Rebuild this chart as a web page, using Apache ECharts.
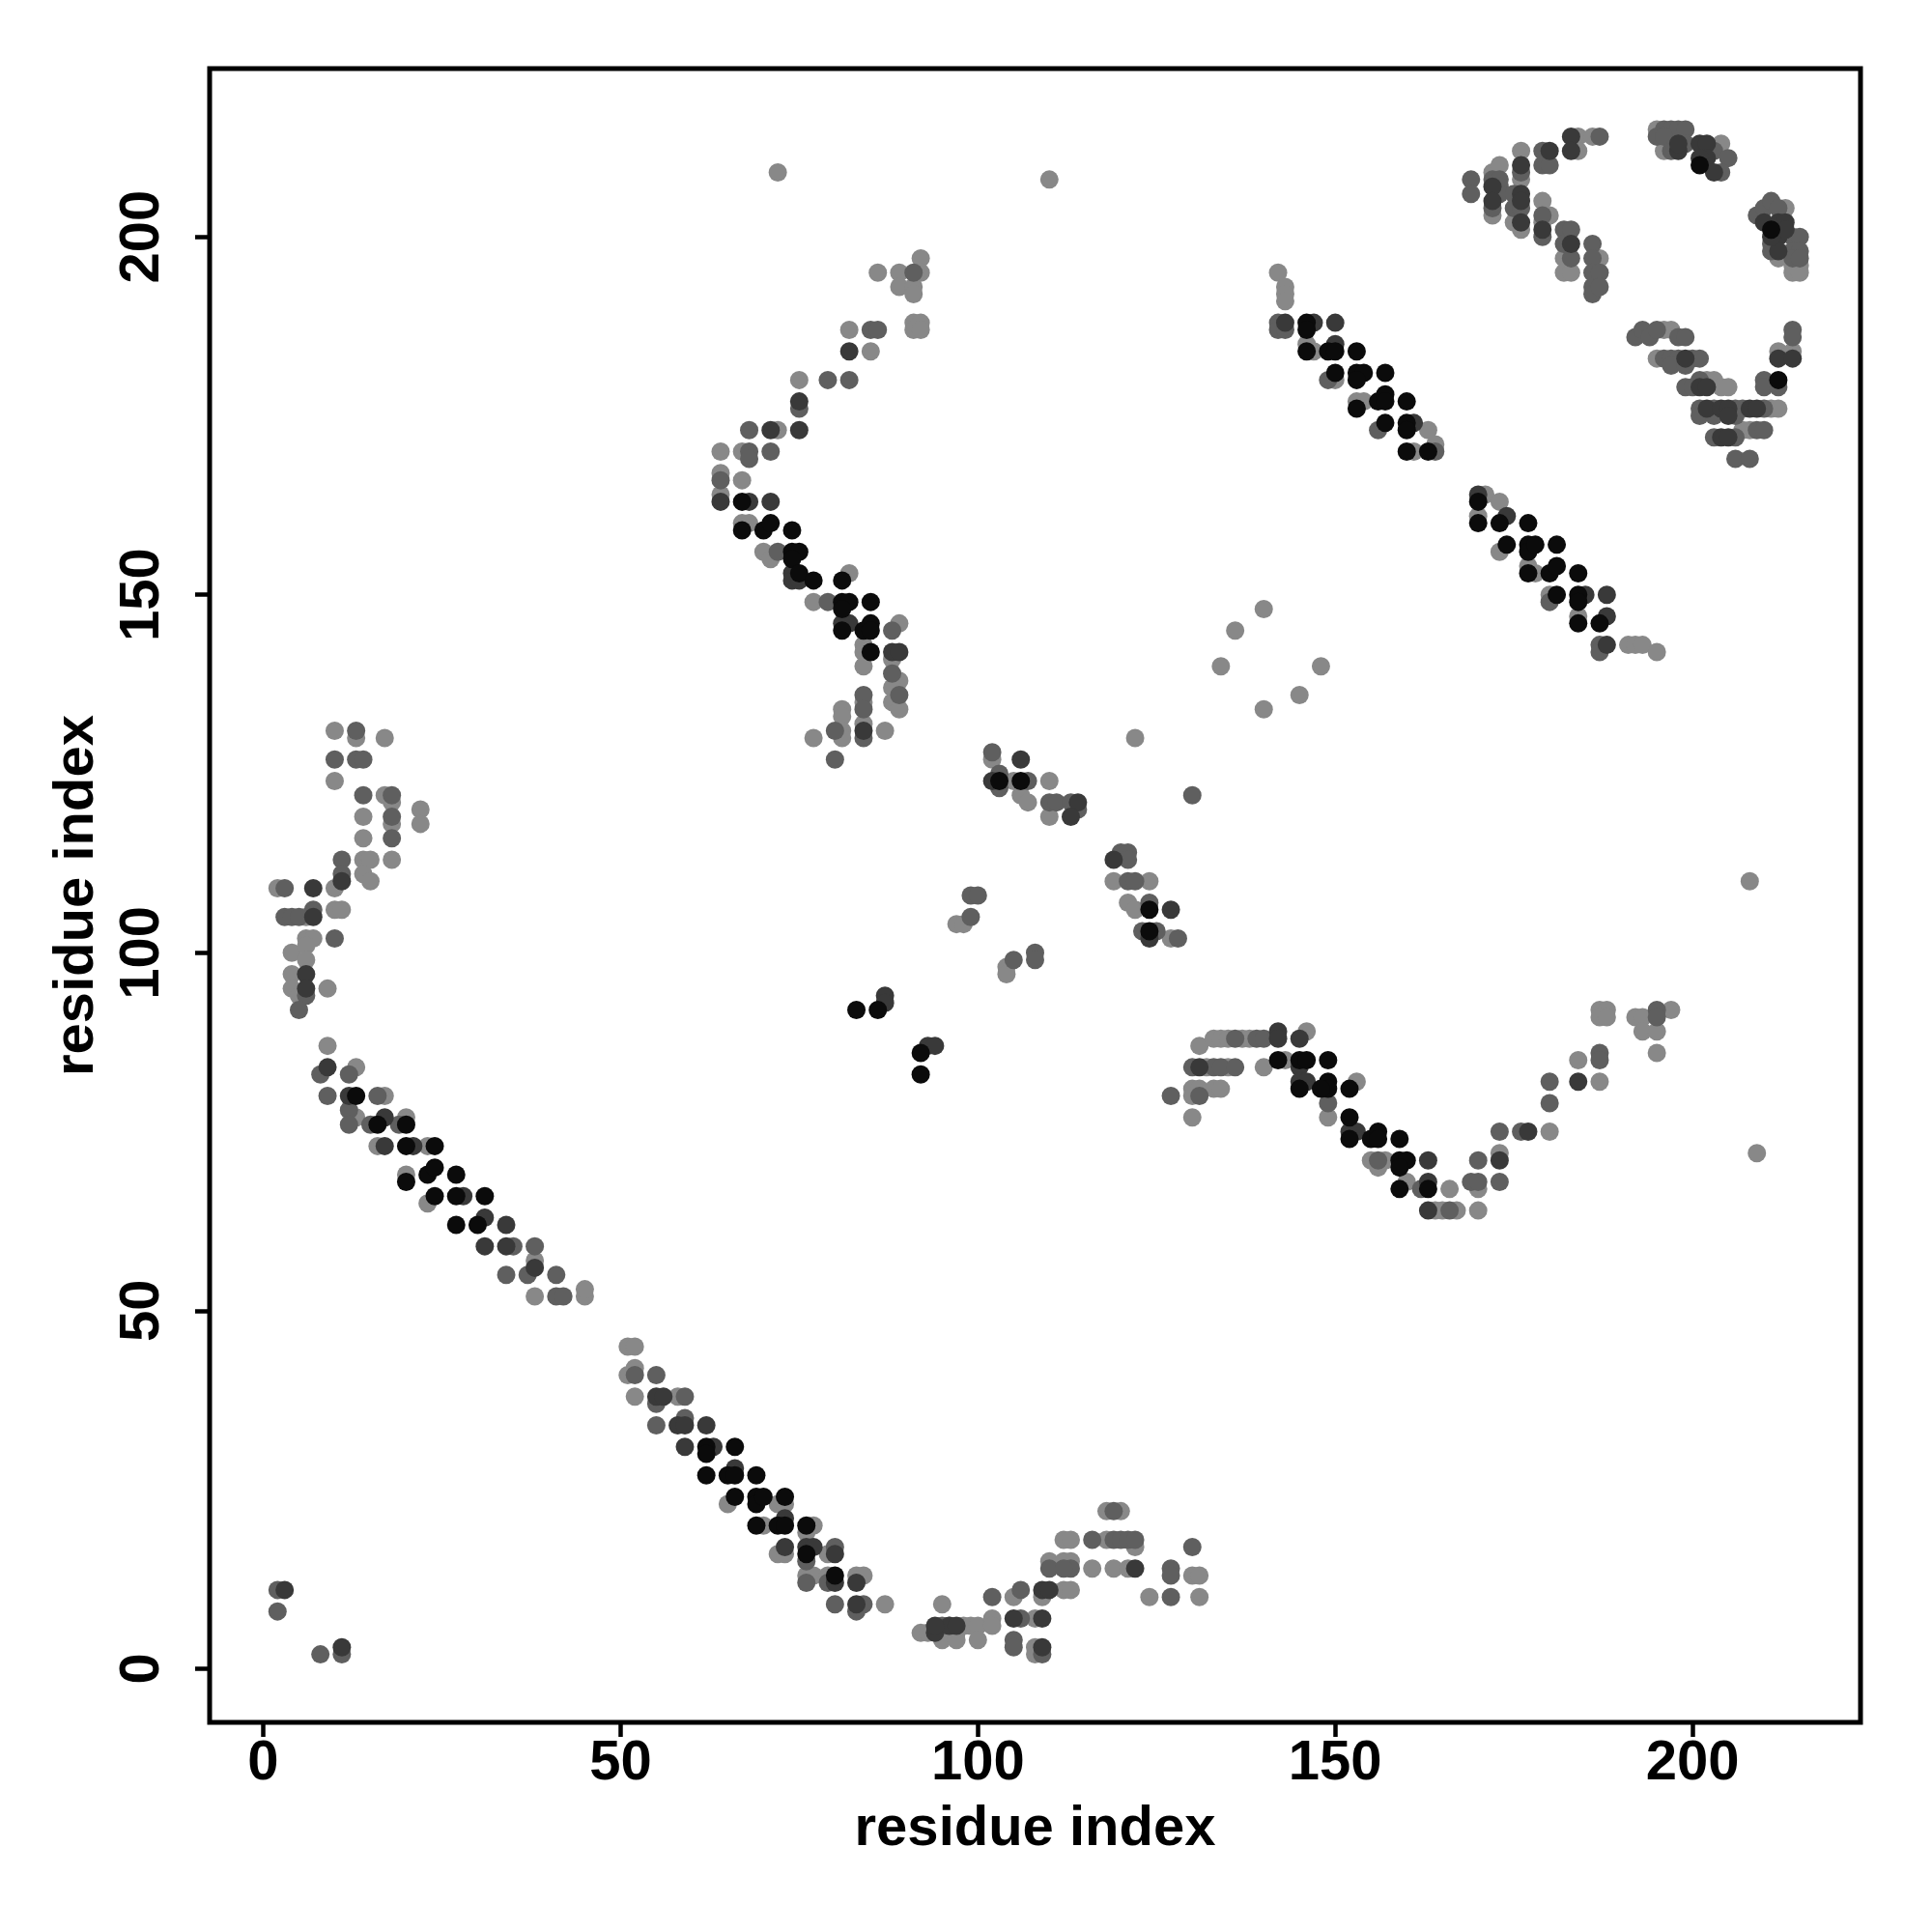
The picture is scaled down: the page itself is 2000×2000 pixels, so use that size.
<!DOCTYPE html>
<html>
<head>
<meta charset="utf-8">
<script src="https://cdn.jsdelivr.net/npm/echarts@6/dist/echarts.min.js"></script>
<style>html,body{margin:0;padding:0;background:#fff}#c{width:2000px;height:2000px}</style>
</head>
<body>
<div id="c"></div>
<script>
// tick labels
const xTicks = [0, 50, 100, 150, 200];
const yTicks = [0, 50, 100, 150, 200];
const axisTitle = 'residue index';
// contact points: [residue i, residue j, shade level 1=black .. 4=light grey]
const leftBand = [[10,131,4],[13,131,3],[13,130,4],[17,130,4],[10,127,3],[13,127,3],[14,127,3],[10,124,4],[14,122,3],[17,122,4],[18,122,3],[18,121,4],[18,119,3],[18,118,4],[14,119,4],[22,120,4],[22,118,4],[14,116,4],[18,116,3],[11,113,3],[14,113,4],[15,113,4],[18,113,4],[11,111,3],[11,110,2],[14,111,4],[15,110,4],[10,109,4],[2,109,4],[3,109,3],[7,109,2],[10,106,4],[11,106,4],[3,105,3],[4,105,3],[5,105,3],[7,106,3],[7,105,2],[6,105,4],[6,102,4],[7,102,4],[10,102,3],[4,100,4],[6,101,4],[6,99,4],[6,97,2],[6,95,2],[6,94,3],[4,97,4],[4,95,4],[9,95,4],[5,94,4],[5,92,3]];
const leftDiag = [[9,87,4],[9,84,2],[8,83,3],[13,84,4],[12,83,3],[9,80,3],[12,80,2],[13,80,1],[16,80,3],[17,80,4],[12,78,3],[13,77,4],[12,76,3],[17,77,2],[16,76,1],[20,77,4],[20,76,1],[15,76,3],[19,76,3],[16,73,4],[17,73,2],[20,73,1],[21,73,2],[23,73,4],[24,73,1],[20,69,4],[20,68,1],[23,69,1],[24,70,1],[27,69,1],[23,65,4],[24,66,1],[27,66,1],[28,66,2],[31,66,1],[27,62,1],[30,62,1],[31,63,2],[34,62,2],[31,59,2],[34,59,2],[35,59,3],[38,59,3],[38,56,2],[38,57,4],[34,55,3],[37,55,3],[41,55,3],[38,52,4],[41,52,3],[42,52,3],[45,52,4],[45,53,4]];
const lowerDiag = [[51,45,4],[52,45,4],[51,41,4],[52,42,4],[52,41,3],[55,41,3],[52,38,4],[55,38,2],[56,38,2],[55,37,3],[58,38,4],[59,38,3],[55,34,3],[58,34,2],[59,35,3],[59,34,2],[62,34,2],[59,31,2],[62,31,1],[62,30,1],[63,31,2],[66,31,1],[62,27,1],[65,27,1],[66,27,1],[66,28,2],[69,27,1],[65,23,4],[66,24,1],[69,24,1],[69,23,1],[70,24,1],[72,23,4],[73,24,1],[73,23,4],[69,20,1],[70,20,4],[72,20,1],[73,20,1],[73,21,2],[76,20,1],[77,20,4],[72,16,4],[73,17,2],[73,16,4],[76,19,4],[76,17,2],[76,16,1],[77,17,2],[76,15,3],[79,16,4],[80,17,3],[80,16,2],[76,13,4],[77,13,4],[76,12,3],[79,13,4],[79,12,3],[80,13,1],[80,12,2],[83,13,4],[84,13,4],[83,12,2],[80,9,3],[83,9,2],[84,9,3],[83,8,3],[87,9,4],[95,9,4],[92,5,4],[93,5,4],[94,5,2],[95,6,3],[96,6,2],[97,5,4],[95,4,4],[97,4,4]];
const originPts = [[2,11,3],[3,11,2],[2,8,3],[8,2,3],[11,3,2],[11,2,3]];
const bottomMid = [[118,22,4],[119,22,3],[120,22,4],[112,18,4],[113,18,4],[116,18,3],[118,18,4],[119,18,3],[120,18,3],[121,18,3],[122,18,3],[122,17,4],[130,17,3],[110,15,4],[110,14,3],[112,15,4],[113,15,4],[113,14,3],[112,14,3],[116,14,4],[119,14,4],[121,14,4],[122,14,2],[127,14,3],[127,13,3],[130,13,4],[131,13,4],[124,10,4],[127,10,3],[131,10,4],[102,10,3],[105,10,4],[106,11,3],[109,11,2],[110,11,2],[112,11,4],[113,11,4],[109,10,4],[94,6,2],[96,6,4],[97,6,2],[98,6,4],[99,6,4],[100,6,4],[100,4,4],[102,7,4],[102,6,4],[105,7,2],[106,7,3],[108,7,4],[109,7,2],[105,4,3],[105,3,3],[108,3,4],[109,3,2],[108,2,4],[109,2,3]];
const arcTop = [[92,197,4],[86,195,4],[89,195,4],[91,195,3],[92,195,4],[89,193,4],[91,193,4],[91,192,4],[91,188,4],[92,188,4],[91,187,4],[92,187,4],[82,187,4],[85,187,3],[86,187,3],[82,184,2],[85,184,4],[75,180,4],[79,180,3],[82,180,3],[75,177,2],[75,176,3],[68,173,3],[71,173,2],[72,173,4],[75,173,2],[64,170,4],[67,170,4],[68,170,3],[68,169,3],[71,170,3],[64,167,4],[64,166,3],[64,164,4],[64,163,2],[67,166,4],[67,163,1],[68,163,2],[71,163,2],[67,160,4],[68,160,4],[67,159,1],[70,159,1],[71,160,1],[74,159,1]];
const arcLow = [[70,156,4],[71,155,4],[72,156,3],[74,156,1],[75,156,1],[74,155,1],[74,153,2],[75,153,1],[74,152,2],[75,152,2],[77,152,1],[81,152,1],[82,153,4],[77,149,4],[79,149,3],[81,149,1],[82,149,1],[85,149,1],[81,148,1],[81,146,2],[82,146,2],[81,145,1],[84,145,1],[85,146,1],[85,145,1],[88,145,3],[89,146,4],[84,143,4],[84,142,4],[85,142,1],[88,142,2],[89,142,2],[84,140,4],[88,141,4],[88,139,3],[89,138,4],[88,137,4],[89,136,3],[88,135,4],[89,134,4],[84,136,3],[84,135,4],[84,134,3],[84,132,4],[84,131,2],[84,130,3],[81,134,4],[81,133,4],[80,131,3],[81,131,4],[81,130,4],[77,130,4],[87,131,4],[80,127,3]];
const middlePts = [[102,128,3],[102,127,4],[106,127,2],[102,124,2],[103,124,1],[103,125,3],[103,123,3],[105,124,4],[106,124,1],[107,124,3],[106,122,4],[107,121,4],[110,124,4],[110,121,3],[111,121,3],[110,119,4],[113,121,3],[114,121,2],[113,119,2],[114,120,3],[122,130,4],[130,122,3],[119,113,2],[120,114,3],[121,114,3],[121,113,3],[119,110,4],[121,110,3],[122,110,3],[124,110,4],[121,107,4],[122,106,4],[124,107,3],[124,106,1],[127,106,2],[123,103,3],[124,103,1],[124,102,2],[125,103,3],[127,102,4],[128,102,3],[99,108,3],[100,108,3],[97,104,4],[98,104,4],[99,105,3],[104,98,4],[104,97,4],[105,99,3],[108,100,3],[108,99,3],[83,92,1],[86,92,1],[87,94,2],[87,93,2],[92,86,1],[93,87,2],[94,87,2],[92,83,1]];
const rightWave = [[127,80,3],[130,77,4],[130,81,4],[131,81,4],[130,80,4],[131,80,3],[133,81,4],[134,81,4],[131,87,4],[133,88,4],[134,88,4],[135,88,4],[136,88,3],[137,88,4],[138,88,4],[139,88,3],[140,88,3],[142,89,2],[142,88,2],[145,88,2],[146,89,4],[130,84,3],[131,84,2],[132,84,4],[133,84,3],[134,84,3],[135,84,4],[136,84,3],[140,84,4],[142,85,1],[143,85,4],[145,85,1],[146,85,1],[145,84,2],[149,85,1],[145,82,2],[146,82,2],[145,81,1],[149,82,1],[149,81,1],[148,81,1],[153,82,4],[152,81,1],[149,79,3],[149,77,4],[152,77,1],[152,75,2],[153,75,2],[152,74,1],[155,74,1],[156,75,1],[156,74,1],[159,74,1],[155,71,4],[156,71,3],[156,70,4],[157,71,4],[159,71,1],[160,71,1],[159,70,1],[163,71,2],[159,67,1],[160,68,4],[162,67,3],[163,68,2],[163,67,1],[166,67,4],[163,64,2],[164,64,4],[165,64,4]];
const rightRise = [[166,64,3],[167,64,4],[170,64,4],[169,68,3],[170,68,3],[170,67,4],[170,71,3],[173,72,4],[173,71,2],[173,68,3],[173,75,3],[176,75,3],[177,75,2],[180,75,4],[180,79,3],[180,82,3],[184,82,2],[187,82,4],[184,85,4],[187,86,3],[187,85,3],[187,92,4],[188,92,4],[187,91,4],[188,91,4],[192,91,4],[193,91,4],[193,89,4],[195,92,3],[195,91,3],[197,92,4],[195,89,4],[195,86,4],[209,72,4]];
const upperDiag = [[142,195,4],[143,193,4],[143,192,4],[143,191,4],[142,188,3],[143,188,2],[142,187,3],[143,187,3],[146,188,1],[147,188,2],[150,188,2],[146,187,1],[146,185,4],[147,184,4],[146,184,1],[149,184,1],[150,185,2],[150,184,1],[153,184,1],[149,180,3],[150,180,4],[150,181,1],[153,181,1],[154,181,1],[153,180,1],[157,181,1],[153,177,4],[154,177,4],[153,176,1],[156,177,1],[157,178,1],[157,177,1],[160,177,1],[156,173,3],[157,174,1],[160,174,1],[160,173,1],[161,174,2],[163,173,4],[160,170,1],[161,170,4],[163,170,1],[164,171,4],[164,170,3]];
const secondDiag = [[170,164,2],[171,164,4],[173,163,4],[170,163,1],[170,161,4],[170,160,1],[173,160,1],[174,161,2],[177,160,1],[173,156,4],[174,157,1],[177,157,1],[177,156,1],[178,157,1],[181,157,1],[177,154,4],[178,153,4],[177,153,1],[180,153,1],[181,154,1],[184,153,1],[180,150,4],[180,149,3],[181,150,1],[184,150,1],[185,150,2],[184,149,1],[188,150,2],[184,147,4],[184,146,1],[187,146,1],[188,147,2],[187,143,3],[188,143,2],[187,142,3],[191,143,4],[192,143,4],[193,143,4],[195,142,4]];
const scatterPts = [[140,148,4],[136,145,4],[134,140,4],[148,140,4],[145,136,4],[140,134,4],[72,209,4],[110,208,4],[208,110,4]];
const cornerLeft = [[169,208,3],[169,206,3],[172,209,4],[172,208,3],[172,207,2],[172,205,2],[172,204,3],[172,203,4],[173,210,4],[173,208,3],[173,207,3],[173,206,3],[175,206,3],[175,204,3],[175,202,4],[176,212,4],[176,210,2],[176,209,3],[176,208,4],[176,206,2],[176,205,2],[176,204,3],[176,202,2],[176,201,4],[179,212,3],[180,212,2],[179,210,3],[180,210,3],[183,214,2],[184,214,4],[186,214,4],[187,214,3],[183,212,2],[184,212,4],[179,205,4],[179,203,3],[179,202,4],[179,201,2],[179,200,3],[180,203,4],[182,201,3],[182,199,3],[182,197,4],[182,195,4],[183,201,3],[183,199,2],[183,197,3],[183,195,4],[186,199,3],[186,197,3],[186,195,3],[186,193,3],[186,192,3],[187,197,4],[187,195,3],[187,193,3]];
const cornerTop = [[195,215,4],[196,215,3],[197,215,3],[198,215,3],[199,215,3],[195,214,3],[196,214,3],[196,212,4],[197,212,3],[198,212,2],[198,213,2],[199,213,3],[201,213,2],[202,213,2],[203,212,3],[201,210,1],[202,211,2],[204,213,4],[205,211,3],[203,209,2],[204,209,3],[201,211,2]];
const cornerRight = [[209,203,3],[210,204,3],[211,205,3],[212,204,3],[210,202,2],[211,201,1],[212,202,2],[213,204,4],[212,200,2],[213,202,2],[213,201,2],[211,199,3],[212,198,2],[214,200,3],[215,200,3],[212,197,4],[214,198,3],[215,198,3],[214,197,3],[215,197,3],[214,196,4],[215,196,4],[214,195,4],[215,195,4],[211,200,2],[211,198,3]];
const cornerLow = [[214,187,3],[214,186,3],[212,184,4],[214,184,4],[212,183,2],[214,183,2],[210,180,3],[212,180,1],[210,179,3],[212,179,3],[192,186,3],[193,187,3],[194,186,3],[195,187,3],[196,187,4],[197,187,4],[198,186,3],[199,186,3],[195,183,4],[196,183,3],[197,183,3],[198,183,3],[199,183,2],[200,183,3],[201,183,3],[197,182,3],[199,182,3],[199,179,3],[200,179,3],[201,180,3],[202,180,4],[203,180,4],[204,179,4],[205,179,4],[201,179,2],[202,179,2],[201,176,3],[202,176,2],[203,176,3],[204,176,2],[205,176,2],[206,176,3],[207,176,3],[208,176,2],[209,176,2],[210,176,3],[211,176,4],[212,176,4],[201,175,3],[203,175,3],[205,175,2],[206,175,3],[203,172,3],[204,172,2],[205,172,2],[206,172,3],[207,173,4],[208,173,4],[209,173,3],[210,173,3],[206,169,3],[208,169,3]];

const allPts = [].concat(leftBand, leftDiag, lowerDiag, originPts, bottomMid, arcTop, arcLow, middlePts,
  rightWave, rightRise, upperDiag, secondDiag, scatterPts, cornerLeft, cornerTop, cornerRight, cornerLow);
const shadeColors = {1: '#0b0b0b', 2: '#393939', 3: '#5f5f5f', 4: '#888888'};

const series = [4, 3, 2, 1].map(lvl => ({
  type: 'scatter',
  data: allPts.filter(p => p[2] === lvl).map(p => [p[0], p[1]]),
  symbol: 'circle',
  symbolSize: 19,
  itemStyle: {color: shadeColors[lvl], opacity: 1},
  silent: true,
  animation: false
}));

const font = 'Liberation Sans, Arial, Helvetica, sans-serif';
const chart = echarts.init(document.getElementById('c'), null, {renderer: 'canvas'});
chart.setOption({
  backgroundColor: '#ffffff',
  animation: false,
  grid: {left: 217, right: 74, top: 71, bottom: 217, show: true, borderColor: '#000', borderWidth: 5, backgroundColor: 'transparent'},
  xAxis: {
    type: 'value', min: -7.5, max: 223.5,
    splitLine: {show: false},
    axisLine: {show: false, onZero: false},
    axisTick: {show: true, customValues: xTicks, length: 15, inside: false, lineStyle: {color: '#000', width: 4.5}},
    axisLabel: {customValues: xTicks, fontSize: 58, fontWeight: 'bold', color: '#000', fontFamily: font, margin: 14},
    name: axisTitle, nameLocation: 'middle', nameGap: 82,
    nameTextStyle: {fontSize: 58, fontWeight: 'bold', color: '#000', fontFamily: font}
  },
  yAxis: {
    type: 'value', min: -7.5, max: 223.5,
    splitLine: {show: false},
    axisLine: {show: false, onZero: false},
    axisTick: {show: true, customValues: yTicks, length: 15, inside: false, lineStyle: {color: '#000', width: 4.5}},
    axisLabel: {customValues: yTicks, rotate: 90, fontSize: 58, fontWeight: 'bold', color: '#000', fontFamily: font, margin: 40},
    name: axisTitle, nameLocation: 'middle', nameGap: 108,
    nameTextStyle: {fontSize: 58, fontWeight: 'bold', color: '#000', fontFamily: font}
  },
  series: series
});
</script>
</body>
</html>
